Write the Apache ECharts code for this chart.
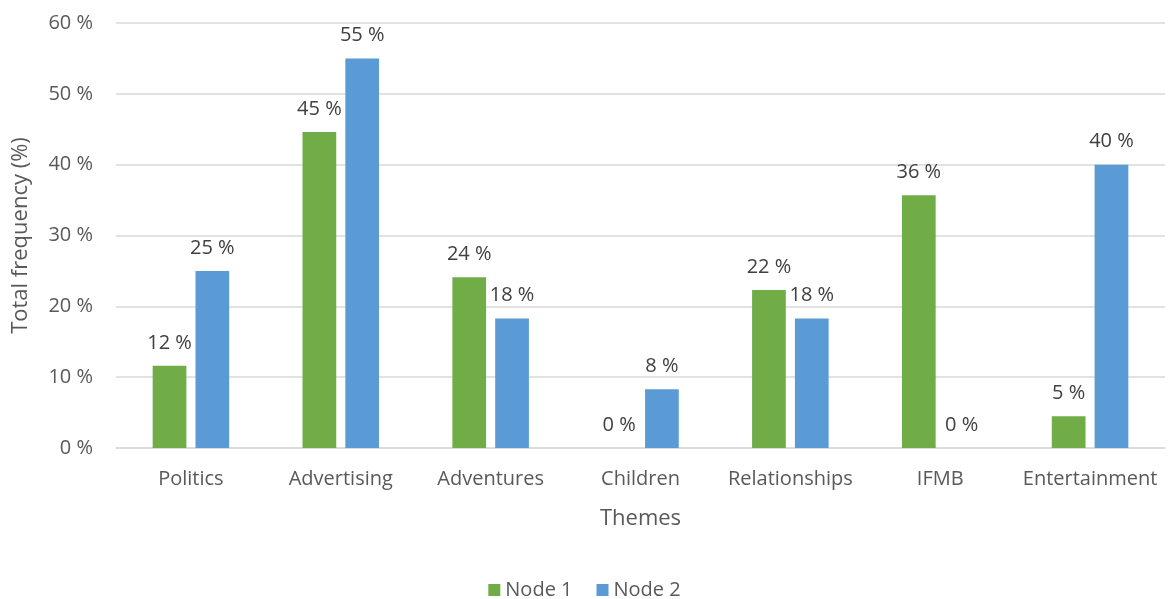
<!DOCTYPE html>
<html><head><meta charset="utf-8">
<script src="https://cdn.jsdelivr.net/npm/echarts@6/dist/echarts.min.js"></script>
<style>html,body{margin:0;padding:0;background:#fff}#c{width:1169px;height:599px}</style>
</head><body><div id="c"></div>
<script>
const categories = ["Politics","Advertising","Adventures","Children","Relationships","IFMB","Entertainment"];
const node1 = [11.6, 44.6, 24.1, 0, 22.3, 35.7, 4.5];
const node2 = [25.0, 55.0, 18.3, 8.3, 18.3, 0, 40.0];
const seriesNames = ["Node 1","Node 2"];
const yTicks = [0,10,20,30,40,50,60];

const FONT = "Open Sans";
const chart = echarts.init(document.getElementById('c'));
const lbl = {show:true, position:'top', distance:13, color:'#404040', fontSize:20, fontFamily:FONT,
  formatter: p => Math.round(p.value) + ' %'};
chart.setOption({
  animation:false,
  textStyle:{fontFamily:FONT},
  grid:{left:116, right:4, top:23, bottom:151, containLabel:false, outerBoundsMode:'none'},
  legend:{top:575, left:'center', itemWidth:12, itemHeight:12, itemGap:24,
    icon:'rect',
    textStyle:{fontSize:20, color:'#595959', fontFamily:FONT},
    data:seriesNames},
  xAxis:{type:'category', data:categories,
    axisLine:{lineStyle:{color:'#D9D9D9', width:1.5}}, axisTick:{show:false},
    axisLabel:{color:'#595959', fontSize:20, margin:21, interval:0, fontFamily:FONT},
    name:'Themes', nameLocation:'middle', nameGap:60,
    nameTextStyle:{color:'#595959', fontSize:22, fontFamily:FONT}},
  yAxis:{type:'value', min:yTicks[0], max:yTicks[yTicks.length-1], interval:10,
    axisLabel:{color:'#595959', fontSize:20, margin:23, fontFamily:FONT, formatter:v=>v+' %'},
    splitLine:{lineStyle:{color:'#D9D9D9', width:1.5}},
    axisLine:{show:false}, axisTick:{show:false},
    name:'Total frequency (%)', nameLocation:'middle', nameGap:84,
    nameTextStyle:{color:'#595959', fontSize:22, fontFamily:FONT}},
  series:[
    {name:seriesNames[0], type:'bar', data:node1, barWidth:'22.5%', barGap:'27%',
      itemStyle:{color:'#70AD47'}, label:lbl},
    {name:seriesNames[1], type:'bar', data:node2, barWidth:'22.5%', barGap:'27%',
      itemStyle:{color:'#5B9BD5'}, label:lbl}
  ]
});
</script></body></html>
